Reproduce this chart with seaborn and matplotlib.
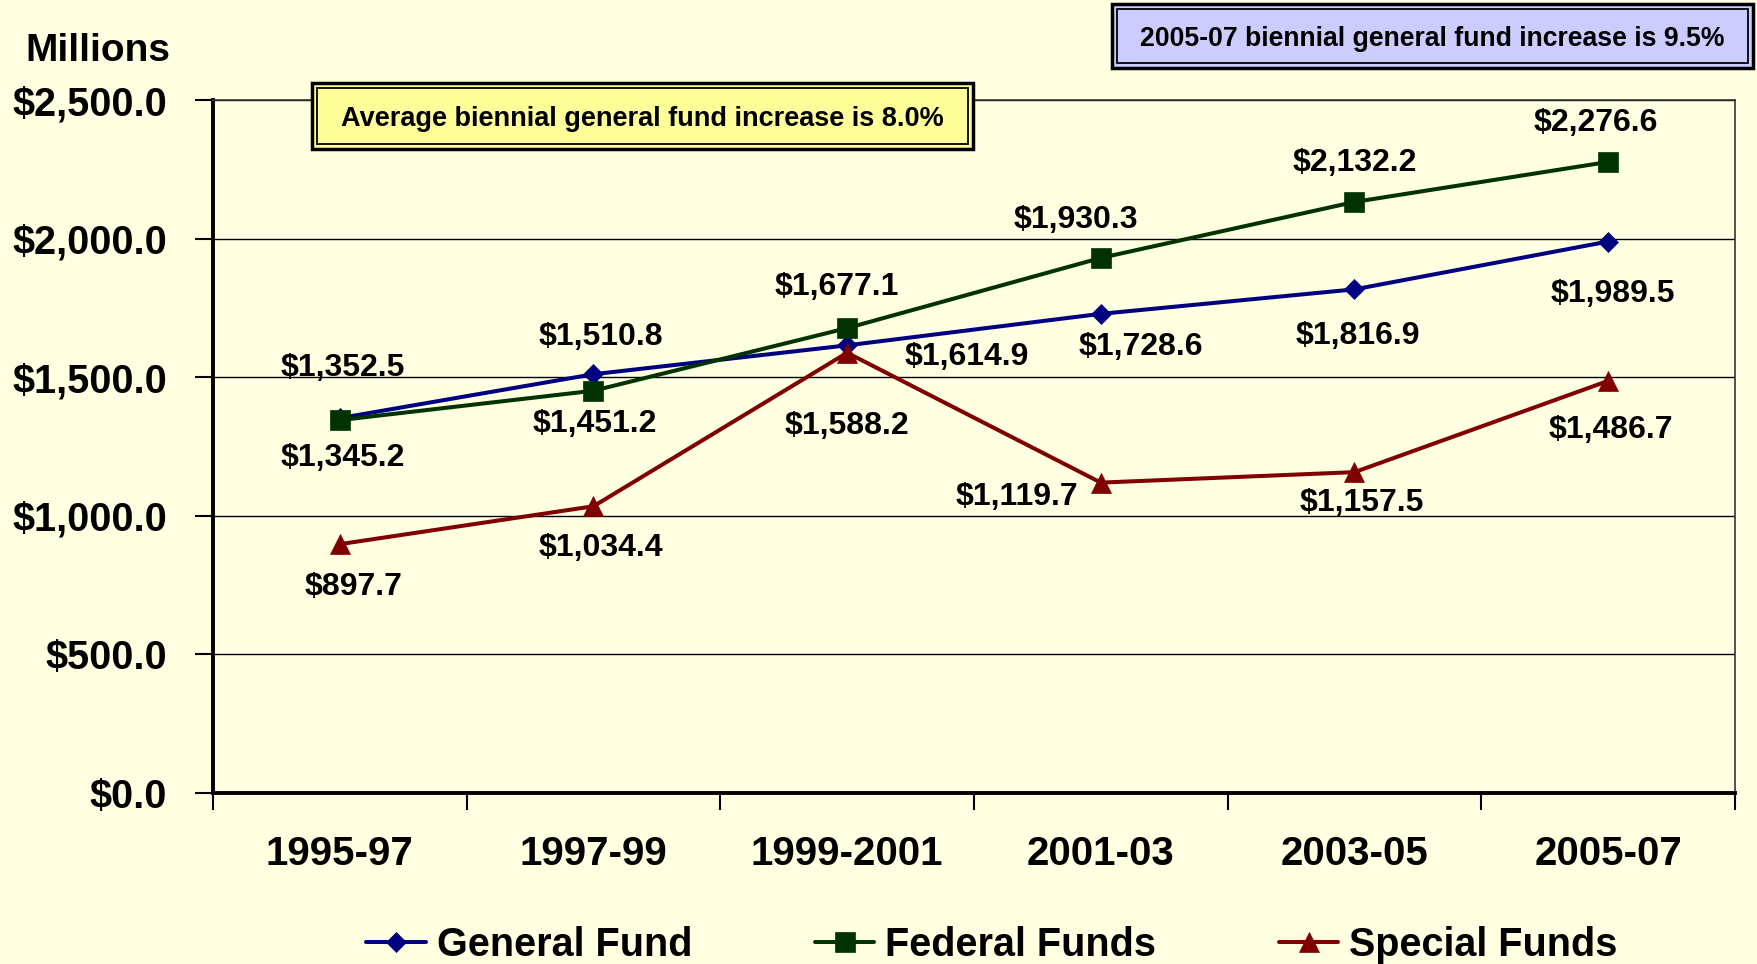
import numpy as np
import pandas as pd
import seaborn as sns
import matplotlib.pyplot as plt
from matplotlib.patches import Rectangle
from matplotlib.ticker import FuncFormatter, FixedLocator

# 数据
periods = ['1995-97', '1997-99', '1999-2001', '2001-03', '2003-05', '2005-07']
general_fund = [1352.5, 1510.8, 1614.9, 1728.6, 1816.9, 1989.5]
federal_funds = [1345.2, 1451.2, 1677.1, 1930.3, 2132.2, 2276.6]
special_funds = [897.7, 1034.4, 1588.2, 1119.7, 1157.5, 1486.7]
y_ticks = [0, 500, 1000, 1500, 2000, 2500]

# 标签偏移 (像素)
gen_off = [(3, 50), (7, 37), (120, -12), (40, -33), (3, -47), (5, -52)]
fed_off = [(3, -38), (1, -33), (-10, 41), (-25, 38), (0, 39), (-12, 39)]
spe_off = [(14, -43), (7, -42), (0, -73), (-84, -14), (7, -31), (3, -49)]

sns.set_theme(style='white')
plt.rcParams['font.family'] = ['Liberation Sans', 'DejaVu Sans']
plt.rcParams['font.weight'] = 'bold'
plt.rcParams['text.color'] = 'black'
plt.rcParams['xtick.color'] = 'black'
plt.rcParams['ytick.color'] = 'black'

W, H = 1758, 964
bg = '#FFFFE1'
fig = plt.figure(figsize=(W / 100, H / 100), dpi=100, facecolor=bg)
ax = fig.add_axes([213 / W, 1 - 793 / H, 1522 / W, 693 / H], facecolor=bg)

x = np.arange(len(periods))
series = [
    ('General Fund', general_fund, '#000080', 'D', 10, gen_off),
    ('Federal Funds', federal_funds, '#003300', 's', 14, fed_off),
    ('Special Funds', special_funds, '#800000', '^', 14, spe_off),
]
for name, vals, col, mk, ms, offs in series:
    sns.lineplot(x=x, y=vals, ax=ax, color=col, marker=mk, markersize=ms,
                 markeredgewidth=0.5, markeredgecolor=col, linewidth=2.9,
                 label=name, legend=False)
    for xi, v, (dx, dy) in zip(x, vals, offs):
        ax.annotate(f'${v:,.1f}', (xi, v), xytext=(dx, dy),
                    textcoords='offset pixels', ha='center', va='center',
                    fontsize=23, fontweight='bold', color='black')

ax.set_xlim(-0.5, len(periods) - 0.5)
ax.set_ylim(0, 2500)
ax.yaxis.set_major_locator(FixedLocator(y_ticks))
ax.yaxis.set_major_formatter(FuncFormatter(lambda v, p: f'${v:,.1f}'))
ax.grid(axis='y', color='black', linewidth=1)
ax.set_axisbelow(True)

ax.set_xticks(x)
ax.set_xticklabels(periods)
ax.set_xticks(np.arange(-0.5, len(periods), 1), minor=True)
ax.tick_params(axis='x', which='major', length=0, pad=30, labelsize=29)
ax.tick_params(axis='x', which='minor', length=12, width=1.5, color='black',
               direction='out', bottom=True)
ax.tick_params(axis='y', length=13, width=1.5, color='black', pad=20,
               labelsize=28.5, left=True, direction='out')
for lab in ax.get_xticklabels() + ax.get_yticklabels():
    lab.set_fontweight('bold')
ax.set_xlabel('')
ax.set_ylabel('')

for s in ['left', 'bottom']:
    ax.spines[s].set_color('black')
    ax.spines[s].set_linewidth(2.8)
for s in ['top', 'right']:
    ax.spines[s].set_color('#333333')
    ax.spines[s].set_linewidth(1.2)

fig.text(98 / W, 1 - 51 / H, 'Millions', ha='center', va='center',
         fontsize=28, fontweight='bold')


def double_box(x0, y0, x1, y1, fill, text, fs):
    # 像素坐标 -> 图坐标
    fx, fy = x0 / W, 1 - y1 / H
    fw, fh = (x1 - x0) / W, (y1 - y0) / H
    fig.patches.append(Rectangle((fx, fy), fw, fh, transform=fig.transFigure,
                                 facecolor=fill, edgecolor='black', linewidth=2.5,
                                 zorder=5))
    ix, iy = 5 / W, 5 / H
    fig.patches.append(Rectangle((fx + ix, fy + iy), fw - 2 * ix, fh - 2 * iy,
                                 transform=fig.transFigure, facecolor=fill,
                                 edgecolor='black', linewidth=1.3, zorder=6))
    fig.text((x0 + x1) / 2 / W, 1 - ((y0 + y1) / 2 + 3) / H, text, ha='center',
             va='center', fontsize=fs, fontweight='bold', zorder=7)


double_box(312, 83, 973, 149, '#FFFF99',
           'Average biennial general fund increase is 8.0%', 19.5)
double_box(1112, 4, 1753, 68, '#CCCCFF',
           '2005-07 biennial general fund increase is 9.5%', 19.2)

handles, labels = ax.get_legend_handles_labels()
fig.legend(handles, labels, loc='center', bbox_to_anchor=(992 / W, 1 - 945 / H),
           ncol=3, frameon=False, prop={'size': 28.5, 'weight': 'bold'},
           handlelength=1.5, handletextpad=0.28, columnspacing=3.1)

plt.savefig('out.png', dpi=100, facecolor=bg)
plt.close()
